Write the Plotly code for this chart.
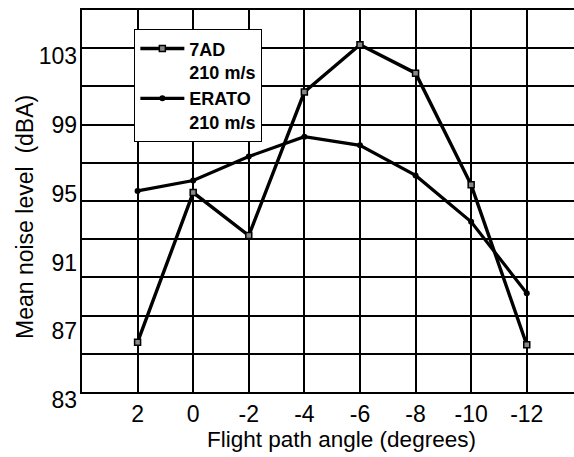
import plotly.graph_objects as go

# ---- data ----
angles = [2, 0, -2, -4, -6, -8, -10, -12]
noise_7ad = [85.9, 94.6, 92.1, 100.45, 103.2, 101.55, 95.05, 85.75]
noise_erato = [94.7, 95.3, 96.7, 97.85, 97.35, 95.6, 92.9, 88.75]
ytick_vals = [83, 87, 91, 95, 99, 103]
xtick_vals = [2, 0, -2, -4, -6, -8, -10, -12]
name_7ad = "7AD<br>210 m/s"
name_erato = "ERATO<br>210 m/s"

# horizontal grid: 9 equal steps from 83 to 103 (as in the original scan)
ymin, ymax_grid = 83, 103
gstep = (ymax_grid - ymin) / 9
ygrid_vals = [ymin + k * gstep for k in range(11)]
yrange = [ymin, ymin + 10 * gstep]

FONT = "Liberation Sans, Arial, sans-serif"

fig = go.Figure()
fig.add_trace(go.Scatter(
    x=angles, y=noise_7ad, name=name_7ad, mode="lines+markers",
    line=dict(color="black", width=3.4),
    marker=dict(symbol="square", size=6, color="#888888",
                line=dict(color="black", width=1.5)),
    xaxis="x", yaxis="y",
))
fig.add_trace(go.Scatter(
    x=angles, y=noise_erato, name=name_erato, mode="lines+markers",
    line=dict(color="black", width=3.2),
    marker=dict(symbol="circle", size=6, color="black"),
    xaxis="x", yaxis="y2",
))

fig.update_layout(
    width=574, height=457,
    margin=dict(l=82, r=0, t=10, b=65),
    paper_bgcolor="white", plot_bgcolor="white",
    font=dict(family=FONT, color="black", size=23),
    showlegend=True,
    legend=dict(
        x=0.106, y=0.95, xanchor="left", yanchor="top",
        bgcolor="white", bordercolor="black", borderwidth=1.2,
        font=dict(family=FONT, size=18, color="black", weight="bold"),
        valign="top", itemwidth=44, tracegroupgap=0,
    ),
    xaxis=dict(
        range=[4, -13.7], tickvals=xtick_vals,
        ticktext=[str(v) for v in xtick_vals],
        showgrid=True, gridcolor="black", gridwidth=1.6,
        showline=True, linecolor="black", linewidth=2, mirror=True,
        ticks="", zeroline=False, ticklabelstandoff=0,
        tickfont=dict(size=23),
    ),
    yaxis=dict(
        range=yrange, tickvals=ygrid_vals, showticklabels=False,
        showgrid=True, gridcolor="black", gridwidth=1.6,
        showline=True, linecolor="black", linewidth=2,
        ticks="", zeroline=False,
    ),
    yaxis2=dict(
        range=yrange, overlaying="y", side="left",
        tickvals=ytick_vals, ticktext=[str(v) for v in ytick_vals],
        showgrid=False, showline=False, ticks="", zeroline=False,
        ticklabelshift=8, ticklabelstandoff=4,
        tickfont=dict(size=23),
    ),
    annotations=[
        dict(text="Mean noise level  (dBA)", xref="paper", yref="paper",
             x=(25 - 82) / 492, y=(392 - 217) / 382, xanchor="center",
             yanchor="middle", textangle=-90, showarrow=False,
             font=dict(family=FONT, size=23, color="black")),
        dict(text="Flight path angle (degrees)", xref="paper", yref="paper",
             x=(341.5 - 82) / 492, y=(392 - 439) / 382, xanchor="center",
             yanchor="middle", showarrow=False,
             font=dict(family=FONT, size=22.5, color="black")),
    ],
)

fig.write_html("out.html")
